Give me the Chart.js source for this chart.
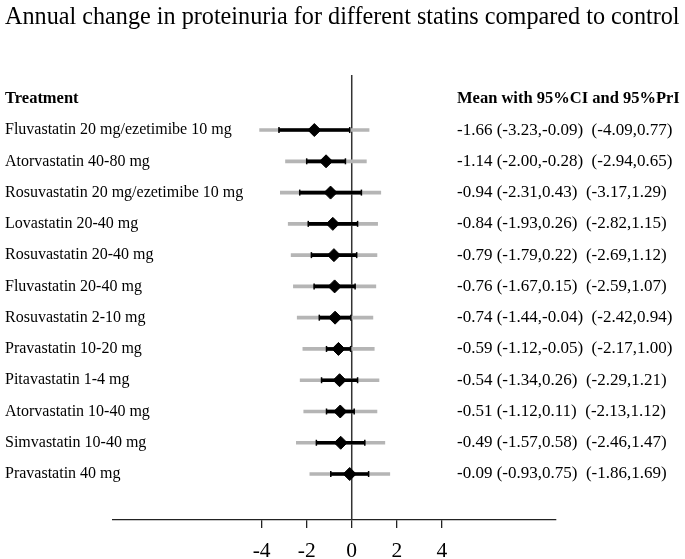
<!DOCTYPE html>
<html>
<head>
<meta charset="utf-8">
<script src="https://cdn.jsdelivr.net/npm/chart.js@4.4.1/dist/chart.umd.min.js"></script>
<style>
  html, body { margin: 0; padding: 0; background: #fff; }
  #wrap { position: relative; width: 685px; height: 559px; }
</style>
</head>
<body>
<div id="wrap"><canvas id="forestChart"></canvas></div>
<script>
var treatments = [
    "Fluvastatin 20 mg/ezetimibe 10 mg",
    "Atorvastatin 40-80 mg",
    "Rosuvastatin 20 mg/ezetimibe 10 mg",
    "Lovastatin 20-40 mg",
    "Rosuvastatin 20-40 mg",
    "Fluvastatin 20-40 mg",
    "Rosuvastatin 2-10 mg",
    "Pravastatin 10-20 mg",
    "Pitavastatin 1-4 mg",
    "Atorvastatin 10-40 mg",
    "Simvastatin 10-40 mg",
    "Pravastatin 40 mg"
];
var means = [-1.66, -1.14, -0.94, -0.84, -0.79, -0.76, -0.74, -0.59, -0.54, -0.51, -0.49, -0.09];
var ciLow = [-3.23, -2.00, -2.31, -1.93, -1.79, -1.67, -1.44, -1.12, -1.34, -1.12, -1.57, -0.93];
var ciHigh = [-0.09, -0.28, 0.43, 0.26, 0.22, 0.15, -0.04, -0.05, 0.26, 0.11, 0.58, 0.75];
var priLow = [-4.09, -2.94, -3.17, -2.82, -2.69, -2.59, -2.42, -2.17, -2.29, -2.13, -2.46, -1.86];
var priHigh = [0.77, 0.65, 1.29, 1.15, 1.12, 1.07, 0.94, 1.00, 1.21, 1.12, 1.47, 1.69];
var xTicks = [-4, -2, 0, 2, 4];

var TITLE = "Annual change in proteinuria for different statins compared to control";
var HEAD_LEFT = "Treatment";
var HEAD_RIGHT = "Mean with 95%CI and 95%PrI";
var SERIF = "'Liberation Serif', 'Times New Roman', serif";

var X_MIN = -10.6;
var X_MAX = 9.07;
var Y_MIN = -0.76;
var Y_MAX = 13.47;

function fmt(v) {
    return v.toFixed(2);
}

var priData = [];
var ciData = [];
var meanData = [];
var capData = [];
for (var i = 0; i < treatments.length; i++) {
    priData.push({ x: [priLow[i], priHigh[i]], y: i + 1 });
    ciData.push({ x: [ciLow[i], ciHigh[i]], y: i + 1 });
    meanData.push({ x: means[i], y: i + 1 });
    capData.push({ x: ciLow[i], y: i + 1 });
    capData.push({ x: ciHigh[i], y: i + 1 });
}

// text columns, title and headers drawn at the y scale's row positions
var textPlugin = {
    id: 'forestText',
    afterDraw: function (chart) {
        var ctx = chart.ctx;
        var yScale = chart.scales.y;
        ctx.save();
        ctx.fillStyle = '#000';
        ctx.textBaseline = 'middle';
        ctx.textAlign = 'left';

        ctx.font = "24.2px " + SERIF;
        ctx.fillText(TITLE, 5, 18);

        ctx.font = "bold 16.5px " + SERIF;
        var yHead = yScale.getPixelForValue(0);
        ctx.fillText(HEAD_LEFT, 5, yHead);
        ctx.fillText(HEAD_RIGHT, 457, yHead);

        for (var i = 0; i < treatments.length; i++) {
            var y = yScale.getPixelForValue(i + 1);
            ctx.font = "16px " + SERIF;
            ctx.fillText(treatments[i], 5, y);
            var txt = fmt(means[i]) + " (" + fmt(ciLow[i]) + "," + fmt(ciHigh[i]) + ")  (" +
                fmt(priLow[i]) + "," + fmt(priHigh[i]) + ")";
            ctx.font = "17px " + SERIF;
            ctx.fillText(txt, 457, y);
        }
        ctx.restore();
    }
};

var config = {
    type: 'scatter',
    data: {
        datasets: [
            {
                type: 'line',
                label: 'zero',
                data: [{ x: 0, y: Y_MIN }, { x: 0, y: Y_MAX }],
                borderColor: '#333',
                borderWidth: 1.5,
                pointRadius: 0,
                order: 5
            },
            {
                type: 'bar',
                label: '95%PrI',
                indexAxis: 'y',
                data: priData,
                backgroundColor: '#b5b5b5',
                barThickness: 3,
                grouped: false,
                borderWidth: 0,
                order: 4
            },
            {
                type: 'bar',
                label: '95%CI',
                indexAxis: 'y',
                data: ciData,
                backgroundColor: '#000',
                barThickness: 3,
                grouped: false,
                borderWidth: 0,
                order: 3
            },
            {
                type: 'scatter',
                label: 'caps',
                data: capData,
                pointStyle: 'line',
                rotation: 90,
                pointRadius: 3,
                borderColor: '#000',
                borderWidth: 1.5,
                order: 2
            },
            {
                type: 'scatter',
                label: 'mean',
                data: meanData,
                pointStyle: 'rectRot',
                pointRadius: 6.5,
                backgroundColor: '#000',
                borderColor: '#000',
                borderWidth: 1,
                order: 1
            }
        ]
    },
    options: {
        responsive: true,
        maintainAspectRatio: false,
        animation: false,
        layout: {
            padding: { left: 113, right: 129, top: 75, bottom: 0 }
        },
        plugins: {
            legend: { display: false },
            tooltip: { enabled: false },
            title: { display: false }
        },
        scales: {
            x: {
                type: 'linear',
                min: X_MIN,
                max: X_MAX,
                offset: false,
                grace: 0,
                afterBuildTicks: function (scale) {
                    scale.ticks = xTicks.map(function (v) { return { value: v }; });
                },
                afterFit: function (scale) {
                    scale.height = 39;
                },
                border: { display: true, color: '#222', width: 1.3 },
                grid: {
                    display: true,
                    offset: false,
                    drawOnChartArea: false,
                    drawTicks: true,
                    tickLength: 8,
                    color: '#222',
                    lineWidth: 1.3
                },
                ticks: {
                    color: '#000',
                    padding: 10,
                    maxRotation: 0,
                    autoSkip: false,
                    font: { family: SERIF, size: 21.5 }
                }
            },
            y: {
                type: 'linear',
                reverse: true,
                min: Y_MIN,
                max: Y_MAX,
                offset: false,
                grace: 0,
                display: true,
                afterFit: function (scale) {
                    scale.width = 0;
                    scale.paddingTop = 0;
                    scale.paddingBottom = 0;
                },
                border: { display: false },
                grid: { display: false, offset: false },
                ticks: { display: false }
            }
        }
    },
    plugins: [textPlugin]
};

new Chart(document.getElementById('forestChart'), config);
</script>
</body>
</html>
